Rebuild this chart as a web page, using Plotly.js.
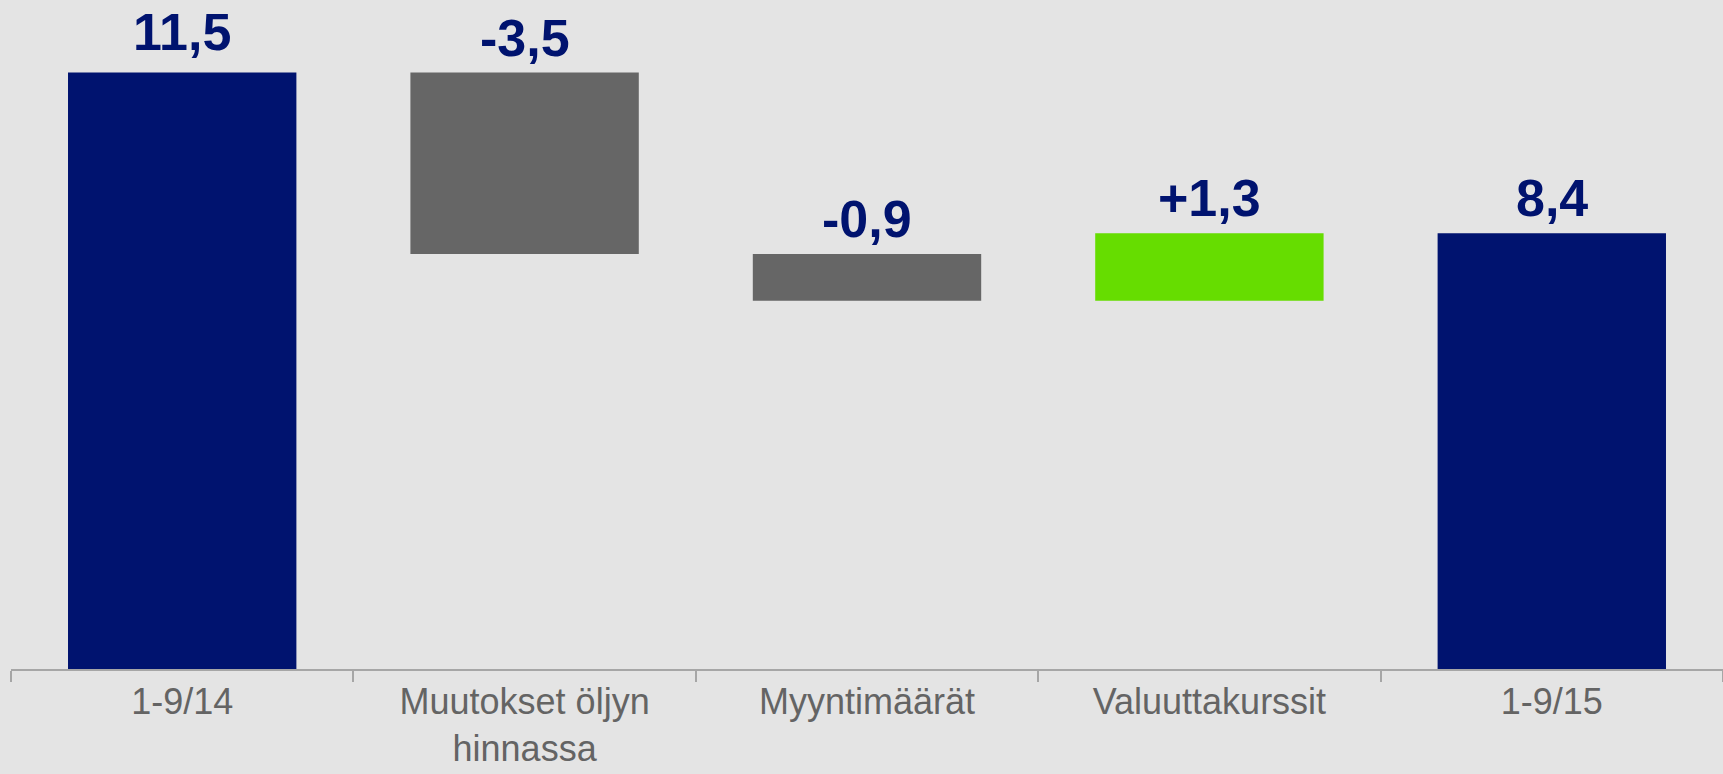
<!DOCTYPE html>
<html>
<head>
<meta charset="utf-8">
<script src="https://cdn.plot.ly/plotly-3.0.1.min.js"></script>
<style>
html,body{margin:0;padding:0;background:#e4e4e4;}
#chart{width:1723px;height:774px;}
</style>
</head>
<body>
<div id="chart"></div>
<script>
const categories = ["1-9/14", "Muutokset öljyn<br>hinnassa", "Myyntimäärät", "Valuuttakurssit", "1-9/15"];
const values = [11.5, -3.5, -0.9, 1.3, 8.4];
const measures = ["absolute", "relative", "relative", "relative", "total"];
const valueLabels = ["11,5", "-3,5", "-0,9", "+1,3", "8,4"];

const NAVY = "#00136f";
const GREY = "#666666";
const GREEN = "#66dd00";

// top of each bar, derived from the data
const tops = [];
let running = 0;
for (let i = 0; i < values.length; i++) {
  let start, end;
  if (measures[i] === "absolute") { start = 0; end = values[i]; running = values[i]; }
  else if (measures[i] === "total") { start = 0; end = running; }
  else { start = running; end = running + values[i]; running = end; }
  tops.push(Math.max(start, end));
}

const trace = {
  type: "waterfall",
  x: categories,
  y: values,
  measure: measures,
  width: 0.667,
  connector: {visible: false},
  increasing: {marker: {color: GREEN}},
  decreasing: {marker: {color: GREY}},
  totals: {marker: {color: NAVY}},
  textinfo: "none",
  hoverinfo: "x+y"
};

const annotations = categories.map((c, i) => ({
  x: c, y: tops[i], xref: "x", yref: "y",
  text: valueLabels[i], showarrow: false,
  yanchor: "bottom", yshift: i === 0 ? 10 : 4,
  font: {family: "Liberation Sans, Arial, sans-serif", size: 52, color: NAVY, weight: 700}
}));

const layout = {
  width: 1723, height: 774,
  margin: {l: 11, r: 0, t: 0, b: 105},
  paper_bgcolor: "#e4e4e4",
  plot_bgcolor: "#e4e4e4",
  showlegend: false,
  font: {family: "Liberation Sans, Arial, sans-serif"},
  xaxis: {
    type: "category",
    range: [-0.5, 4.5],
    showline: true, linecolor: "#a6a6a6", linewidth: 2,
    ticks: "outside", tickson: "boundaries", ticklen: 11, tickcolor: "#a6a6a6", tickwidth: 2,
    ticklabelstandoff: 0,
    tickfont: {family: "Liberation Sans, Arial, sans-serif", size: 36, color: "#646464"},
    showgrid: false, zeroline: false, fixedrange: true
  },
  yaxis: {
    range: [0, 12.9],
    visible: false, showgrid: false, zeroline: false, fixedrange: true
  },
  annotations: annotations
};

Plotly.newPlot("chart", [trace], layout, {displayModeBar: false, staticPlot: true});
</script>
</body>
</html>
